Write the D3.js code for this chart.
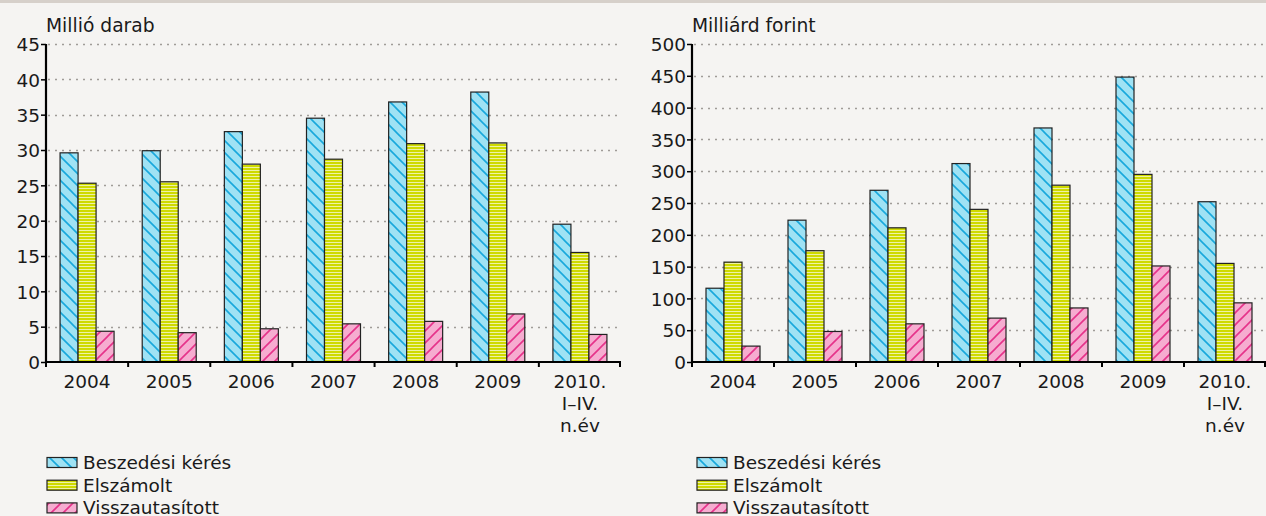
<!DOCTYPE html>
<html><head><meta charset="utf-8">
<script src="https://cdn.jsdelivr.net/npm/d3@7"></script>
<style>
html,body{margin:0;padding:0;background:#f5f4f2;}
svg{display:block;}
text{font-family:"DejaVu Sans",sans-serif;fill:#1a1a1a;}
</style></head><body>
<svg id="c" width="1266" height="516"></svg>
<script>
const categories = ["2004","2005","2006","2007","2008","2009","2010.\nI–IV.\nn.év"];
const seriesNames = ["Beszedési kérés","Elszámolt","Visszautasított"];
// Left panel: million pieces
const beszedesDb   = [29.6, 29.9, 32.6, 34.5, 36.8, 38.2, 19.5];
const elszamoltDb  = [25.3, 25.5, 28.0, 28.7, 30.9, 31.0, 15.5];
const visszaDb     = [4.35, 4.15, 4.7, 5.4, 5.75, 6.8, 3.9];
// Right panel: billion forints
const beszedesFt   = [116, 223, 270, 312, 368, 448, 252];
const elszamoltFt  = [157, 175, 211, 240, 278, 295, 155];
const visszaFt     = [25, 48, 60, 69, 85, 151, 93];
const leftTicks  = [0,5,10,15,20,25,30,35,40,45];
const rightTicks = [0,50,100,150,200,250,300,350,400,450,500];

const FS = "18.5px";
const svg = d3.select("#c");
svg.append("rect").attr("x",0).attr("y",0).attr("width",1266).attr("height",516).attr("fill","#f5f4f2");
svg.append("rect").attr("x",0).attr("y",0).attr("width",1266).attr("height",3).attr("fill","#d6d0ca");

const defs = svg.append("defs");
// blue "\" hatch
const pb = defs.append("pattern").attr("id","pBlue").attr("patternUnits","userSpaceOnUse").attr("width",12).attr("height",12);
pb.append("rect").attr("width",12).attr("height",12).attr("fill","#9fe2f4");
pb.append("path").attr("d","M-2,-2 L14,14 M-2,10 L2,14 M10,-2 L14,2").attr("stroke","#18a8dc").attr("stroke-width",1.6);
// yellow horizontal stripes
const py = defs.append("pattern").attr("id","pYellow").attr("patternUnits","userSpaceOnUse").attr("width",6).attr("height",3);
py.append("rect").attr("width",6).attr("height",3).attr("fill","#cfda00");
py.append("rect").attr("y",2).attr("width",6).attr("height",1).attr("fill","#eef2a6");
// pink "/" hatch
const pp = defs.append("pattern").attr("id","pPink").attr("patternUnits","userSpaceOnUse").attr("width",12).attr("height",12);
pp.append("rect").attr("width",12).attr("height",12).attr("fill","#f6acd0");
pp.append("path").attr("d","M-2,14 L14,-2 M-2,2 L2,-2 M10,14 L14,10").attr("stroke","#e6328a").attr("stroke-width",1.6);
const fills = ["url(#pBlue)","url(#pYellow)","url(#pPink)"];

function panel(opts){
  const {x0,x1,y0,y1,max,ticks,title,data,legendX} = opts;
  const g = svg.append("g");
  const x = d3.scaleBand().domain(categories).range([x0,x1]).padding(0);
  const bw = x.bandwidth();
  const xs = d3.scaleBand().domain(seriesNames).range([(bw-54)/2,(bw+54)/2]).padding(0);
  const y = d3.scaleLinear().domain([0,max]).range([y0,y1]);

  // grid
  g.selectAll(".grid").data(ticks.filter(t=>t>0)).join("line")
    .attr("x1",x0+2).attr("x2",x1-3).attr("y1",d=>Math.round(y(d))+0.5).attr("y2",d=>Math.round(y(d))+0.5)
    .attr("stroke","#a09c98").attr("stroke-width",1.5).attr("stroke-dasharray","2,5");

  // bars
  seriesNames.forEach((s,si)=>{
    g.selectAll(".b"+si).data(data[si]).join("rect")
      .attr("x",(d,i)=>x(categories[i])+xs(s))
      .attr("width",xs.bandwidth())
      .attr("y",d=>y(d))
      .attr("height",d=>y(0)-y(d))
      .attr("fill",fills[si]).attr("stroke","#222").attr("stroke-width",1.2);
  });

  // y axis
  const ya = d3.axisLeft(y).tickValues(ticks).tickSize(5).tickPadding(1).tickFormat(d3.format("d"));
  const yg = g.append("g").attr("transform",`translate(${x0},0)`).call(ya);
  yg.select(".domain").attr("stroke","#000").attr("stroke-width",2.2).attr("d",`M0,${y0}V${y1}`);
  yg.selectAll(".tick line").attr("stroke","#000").attr("stroke-width",1.5);
  yg.selectAll(".tick text").style("font-family","DejaVu Sans").style("font-size",FS).attr("fill","#1a1a1a").attr("dy","0.36em");

  // x axis
  g.append("line").attr("x1",x0-1).attr("x2",x1).attr("y1",y0).attr("y2",y0).attr("stroke","#000").attr("stroke-width",2.2);
  const bounds = categories.map(c=>x(c)).concat([x1-1]);
  g.selectAll(".xt").data(bounds).join("line")
    .attr("x1",d=>d).attr("x2",d=>d).attr("y1",y0).attr("y2",y0+5).attr("stroke","#000").attr("stroke-width",2);
  categories.forEach(c=>{
    const lines = c.split("\n");
    const t = g.append("text").attr("text-anchor","middle").style("font-size",FS);
    lines.forEach((l,li)=>t.append("tspan").attr("x",x(c)+bw/2).attr("y",388+li*22).text(l));
  });

  // title
  g.append("text").attr("x",x0).attr("y",32).style("font-size","18.7px").text(title);

  // legend
  seriesNames.forEach((s,si)=>{
    const ly = 457.5 + si*22.7;
    g.append("rect").attr("x",legendX).attr("y",ly).attr("width",30).attr("height",10)
      .attr("fill",fills[si]).attr("stroke","#222").attr("stroke-width",1.2);
    g.append("text").attr("x",legendX+36).attr("y",ly+11.5).style("font-size",FS).text(s);
  });
}

panel({x0:46,x1:621,y0:362,y1:44,max:45,ticks:leftTicks,title:"Millió darab",
  data:[beszedesDb,elszamoltDb,visszaDb],legendX:47});
panel({x0:692,x1:1266,y0:362,y1:44,max:500,ticks:rightTicks,title:"Milliárd forint",
  data:[beszedesFt,elszamoltFt,visszaFt],legendX:697});
</script>
</body></html>
